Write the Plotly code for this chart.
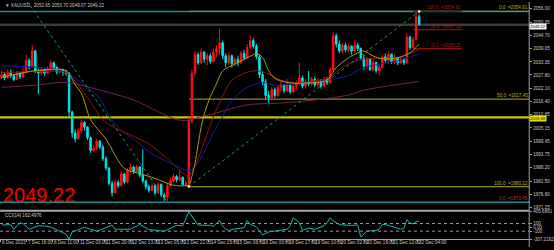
import numpy as np
import plotly.graph_objects as go

# ---------------- data ----------------
symbol = "XAUUSD"
first_open = 2027.0
close = [2028, 2026.5, 2029, 2027.5, 2025.8, 2028.5, 2027, 2029, 2034, 2031.5,
         2038, 2029.5, 2028.5, 2030, 2028.5, 2030.5, 2033, 2031, 2029, 2030,
         2029, 2028.5, 2012, 2003, 2000.5, 2004, 2007.5, 2005.5, 2001, 1995.5,
         1996.5, 1999.5, 1997, 1992, 1988, 1981.5, 1977.5, 1982, 1980.5, 1985.5,
         1982, 1987, 1988.5, 1986.5, 1988.5, 1985, 1982.5, 1980, 1978.5, 1980.5,
         1977.5, 1981, 1976.5, 1975.5, 1980.5, 1982.5, 1984.5, 1983, 1984, 1981,
         1981.5, 2008, 2028.5, 2036.5, 2033, 2037.5, 2034.5, 2036, 2033.5, 2037.5,
         2039, 2041.5, 2036, 2033, 2036, 2032.5, 2034.5, 2033, 2037, 2035,
         2039.5, 2042.5, 2040, 2035.5, 2028, 2025, 2019, 2018, 2021.5, 2019,
         2022.5, 2023.5, 2021, 2023.5, 2020.5, 2023, 2024.5, 2026.5, 2023, 2025,
         2024, 2026, 2023.5, 2025, 2023, 2026, 2024.5, 2030, 2044.5, 2041,
         2038, 2040.5, 2038.5, 2040, 2038, 2040.5, 2039, 2035, 2031.5, 2034.5,
         2030, 2033, 2029.5, 2031, 2035.5, 2034, 2036.5, 2033.5, 2035, 2033,
         2034.5, 2033, 2044, 2039.5, 2043, 2052.65, 2049.22]
high = [2029.5, 2029, 2030, 2030, 2028, 2029.5, 2029, 2031, 2036.5, 2035,
        2040.5, 2038.5, 2030.5, 2031, 2030.5, 2031.5, 2034, 2033.5, 2031.5, 2031,
        2030.5, 2030, 2029, 2012.5, 2004.5, 2005, 2008.5, 2008, 2006, 2001.5,
        1998, 2000.5, 2000, 1998, 1993, 1988.5, 1982.5, 1983, 1983, 1986.5,
        1986, 1988, 1990, 1989, 1989.5, 1989, 1996, 1983, 1981, 1981.5,
        1981, 1982, 1981.5, 1977.5, 1981.5, 1984, 1985.5, 1985, 1987.5, 1984.5,
        1982.5, 2010, 2030, 2038, 2037.5, 2039, 2038, 2037, 2037, 2039,
        2040.5, 2047.5, 2042.5, 2037, 2037.5, 2036.5, 2035.5, 2036, 2038, 2038.5,
        2041, 2044.5, 2043.5, 2041, 2036.5, 2029, 2026, 2021, 2022.5, 2022.5,
        2023.5, 2025, 2024, 2026, 2024, 2024.5, 2025.5, 2033, 2027.5, 2026,
        2029.5, 2027, 2027, 2026.5, 2026, 2027, 2027, 2031, 2046, 2045.5,
        2042.5, 2041.5, 2041.5, 2041, 2040.5, 2042.5, 2041.5, 2039.5, 2036.5, 2035.5,
        2035, 2034.5, 2033.5, 2032, 2036.5, 2037, 2037.5, 2037, 2036.5, 2035.5,
        2035.5, 2035, 2045.5, 2044.5, 2044, 2054.91, 2053.70]
low = [2026, 2025.5, 2026, 2026.5, 2025, 2025.5, 2026, 2026.5, 2028.5, 2030,
       2031, 2028.5, 2019.5, 2027.5, 2027.5, 2028, 2029.5, 2030, 2028, 2028.5,
       2027.5, 2027.5, 2010, 2001, 1999, 2000, 2003, 2004, 2000, 1994.5,
       1995, 1995.5, 1996, 1991, 1987, 1980.5, 1976, 1977, 1979.5, 1980,
       1981, 1981.5, 1986, 1985.5, 1986, 1984, 1981.5, 1979, 1977.5, 1978,
       1976.5, 1977, 1975.5, 1974, 1973.45, 1980, 1982, 1982, 1982.5, 1980.5,
       1980.12, 1981, 2007, 2027, 2032, 2032.5, 2033, 2032, 2032.5, 2033,
       2035.5, 2036.5, 2034.5, 2031, 2032, 2031, 2031.5, 2031.5, 2032.5, 2034,
       2034.5, 2039, 2039, 2034.5, 2026.5, 2023.5, 2017.5, 2015.8, 2017, 2018,
       2018.5, 2021, 2020, 2020.5, 2019.5, 2020, 2021.5, 2023.5, 2022, 2022,
       2023, 2023, 2022.5, 2022.5, 2022, 2022.5, 2023.5, 2024, 2029.5, 2039.5,
       2037, 2037, 2037.5, 2037.5, 2036.5, 2037.5, 2038, 2034, 2030, 2030.5,
       2029.5, 2029, 2028.5, 2027.5, 2030.5, 2033, 2032.5, 2032.5, 2032.5, 2032,
       2032.5, 2032, 2032.5, 2038.5, 2039, 2042.5, 2049.07]

date_labels = ["6 Dec 2023", "7 Dec 16:00", "8 Dec 11:00", "11 Dec 03:00",
               "11 Dec 20:00", "12 Dec 13:00", "13 Dec 05:00", "13 Dec 22:00",
               "14 Dec 15:00", "15 Dec 08:00", "18 Dec 00:00", "18 Dec 17:00",
               "19 Dec 10:00", "20 Dec 02:00", "20 Dec 19:00", "21 Dec 12:00",
               "22 Dec 04:00"]
bars_per_label = 8.49

price_ticks = [2056.00, 2050.35, 2044.70, 2039.05, 2033.35, 2027.80, 2022.10,
               2016.40, 2010.85, 2005.15, 1999.45, 1993.75, 1988.20, 1982.50,
               1976.80, 1971.25]
cci_ticks = [405.6861, 100, 0, -100, -307.2162]
cci_tick_text = ["405.6861", "100", "0.00", "-100", "-307.2162"]

olive_ma_i = [0, 11, 21, 24, 26, 29, 34, 40, 45, 50, 56, 61, 62, 63, 64, 65, 66, 68,
              70, 72, 76, 80, 83, 85, 87, 89, 93, 96, 102, 106, 109, 113, 116, 118,
              121, 124, 129, 133, 136]
olive_ma_v = [2026.7, 2029.6, 2029.6, 2023.5, 2020.0, 2008.7, 2000.4, 1987.8, 1985.7,
              1983.6, 1980.7, 1980.9, 1984.5, 1990.0, 1998.0, 2005.5, 2011.0, 2018.5,
              2024.0, 2029.5, 2032.4, 2035.1, 2036.8, 2035.3, 2029.6, 2026.3, 2024.6,
              2024.2, 2024.6, 2025.5, 2030.9, 2035.1, 2037.2, 2038.0, 2035.9, 2034.7,
              2035.1, 2037.2, 2040.9]
red_ma_i = [0, 11, 21, 23, 28, 33, 36, 43, 48, 54, 60, 61, 64, 67, 70, 73, 75, 79, 83,
            86, 91, 96, 106, 110, 113, 118, 129, 136]
red_ma_v = [2028.8, 2029.2, 2029.0, 2026.7, 2018.0, 2008.7, 2005.8, 2001.6, 1998.3,
            1992.0, 1984.9, 1984.5, 1992.0, 2003.0, 2013.0, 2021.5, 2025.5, 2028.5,
            2029.6, 2028.8, 2025.5, 2024.6, 2026.3, 2030.0, 2032.6, 2034.7, 2035.1,
            2038.8]
blue_ma_i = [0, 16, 21, 27, 32, 35, 39, 43, 48, 54, 61, 63, 66, 69, 72, 74, 77, 80, 85,
             89, 96, 106, 113, 118, 129, 136]
blue_ma_v = [2031.7, 2030.5, 2028.8, 2023.4, 2017.9, 2010.4, 2004.0, 2000.4, 1994.9,
             1990.7, 1987.0, 1988.5, 1995.0, 2003.0, 2010.0, 2015.0, 2019.5, 2022.5,
             2024.6, 2023.4, 2024.2, 2025.5, 2027.5, 2030.9, 2033.8, 2036.8]
purple_ma_i = [0, 11, 21, 32, 43, 51, 57, 61, 64, 70, 80, 91, 102, 113, 118, 136]
purple_ma_v = [2022.5, 2023.4, 2024.6, 2021.3, 2017.1, 2012.1, 2008.7, 2008.3, 2009.6,
               2011.6, 2015.0, 2015.8, 2017.1, 2019.2, 2021.3, 2025.0]

cci_i = [0, 3, 4, 6, 7, 9, 12, 14, 16, 19, 21, 22, 23, 25, 27, 29, 31, 33, 36, 37, 42,
         45, 48, 53, 55, 57, 59, 61, 63, 64, 68, 69, 71, 72, 73, 74, 76, 79, 80, 81, 83,
         85, 87, 90, 93, 94, 95, 97, 98, 100, 102, 105, 106, 107, 108, 110, 114, 116,
         117, 119, 122, 123, 124, 125, 127, 129, 130, 131, 132, 133, 134, 135, 136]
cci_v = [60, 70, -50, 120, 100, -50, 40, 35, 10, -100, -180, -307.2162, -120, -60, 0,
         -50, -100, -40, 60, -50, -50, 75, -60, -100, -20, 50, 40, 405.6861, 176, 60,
         50, 30, 176, 40, -50, -80, -40, -10, 176, 80, 10, -200, -120, -90, -50, 40,
         250, 120, -80, -20, -50, 40, 120, 250, 170, 70, 50, 60, -250, -100, -80, -50,
         75, 75, 30, -10, -50, -30, 200, 120, 90, 150, 162.4976]

support_level = 2009.68
teal_levels = [2054.91, 1973.45]
olive_fib_pcts = ["0.0", "50.0", "100.0"]
olive_fib_prices = [2054.91, 2017.45, 1980.12]
olive_fib_start = 61
red_fib_pcts = ["100.0", "50.0", "0.0"]
red_fib_prices = [2054.91, 2047.13, 2039.05]
red_fib_span = [134, 150]
trend1_x = [6, 54]
trend1_y = [2063.6, 1973.45]
trend2_x = [61, 136]
trend2_y = [1980.12, 2054.91]

# ---------------- figure ----------------
open_ = [first_open] + close[:-1]
x = np.arange(len(close))

XDOM = 536 / 554
XMIN, XMAX = -0.5, -0.5 + 536 / 3.11
FONT = "Liberation Sans, Arial, sans-serif"
SMALL = 4.6

fig = go.Figure()
fig.add_trace(go.Candlestick(
    x=x, open=open_, high=high, low=low, close=close,
    increasing=dict(line=dict(color="#ff1010", width=1), fillcolor="#ff1010"),
    decreasing=dict(line=dict(color="#00e8e8", width=1), fillcolor="#00e8e8"),
    whiskerwidth=0, xaxis="x", yaxis="y", hoverinfo="skip"))

for xi, yi, col in [(purple_ma_i, purple_ma_v, "#7d1e5e"),
                    (blue_ma_i, blue_ma_v, "#1a1aa8"),
                    (red_ma_i, red_ma_v, "#9a1212"),
                    (olive_ma_i, olive_ma_v, "#a8a018")]:
    fig.add_trace(go.Scatter(x=xi, y=yi, mode="lines",
                             line=dict(color=col, width=1, shape="spline", smoothing=0.8),
                             xaxis="x", yaxis="y", hoverinfo="skip"))

for tx, ty in [(trend1_x, trend1_y), (trend2_x, trend2_y)]:
    fig.add_trace(go.Scatter(x=tx, y=ty, mode="lines",
                             line=dict(color="#1f9a66", width=1, dash="dot"),
                             xaxis="x", yaxis="y", hoverinfo="skip"))
fig.add_trace(go.Scatter(x=trend2_x, y=trend2_y, mode="markers",
                         marker=dict(color="white", size=2.5),
                         xaxis="x", yaxis="y", hoverinfo="skip"))

fig.add_trace(go.Scatter(x=cci_i, y=cci_v, mode="lines",
                         line=dict(color="#20b2aa", width=1),
                         xaxis="x", yaxis="y2", hoverinfo="skip"))

shapes = []
for lv in teal_levels:
    shapes.append(dict(type="line", xref="x domain", x0=0, x1=1, yref="y", y0=lv, y1=lv,
                       line=dict(color="#138f8f", width=1.5), layer="below"))
shapes.append(dict(type="line", xref="x domain", x0=0, x1=1, yref="y",
                   y0=close[-1], y1=close[-1], line=dict(color="#3c3c3c", width=2.5),
                   layer="below"))
shapes.append(dict(type="line", xref="x domain", x0=0, x1=1, yref="y",
                   y0=support_level, y1=support_level,
                   line=dict(color="#c4c400", width=2.2), layer="below"))
for p in olive_fib_prices:
    shapes.append(dict(type="line", xref="x", x0=olive_fib_start, x1=XMAX, yref="y",
                       y0=p, y1=p, line=dict(color="#8c8c0c", width=1.3), layer="below"))
for p in red_fib_prices:
    shapes.append(dict(type="line", xref="x", x0=red_fib_span[0], x1=red_fib_span[1],
                       yref="y", y0=p, y1=p, line=dict(color="#8e0e0e", width=1.3),
                       layer="below"))
for lv in [100, -100]:
    shapes.append(dict(type="line", xref="x domain", x0=0, x1=1, yref="y2", y0=lv, y1=lv,
                       line=dict(color="#9a9a9a", width=1, dash="dot"), layer="below"))
# panel separator and right frame
shapes.append(dict(type="line", xref="paper", x0=0, x1=XDOM, yref="paper",
                   y0=1 - 213 / 250, y1=1 - 213 / 250,
                   line=dict(color="#a8a8a8", width=2)))
shapes.append(dict(type="line", xref="paper", x0=XDOM, x1=XDOM, yref="paper",
                   y0=0, y1=1, line=dict(color="#a0a0a0", width=1)))

ann = []
date_pos = [XMIN + bars_per_label * k for k in range(len(date_labels))]
for pos, lab in zip(date_pos, date_labels):
    ann.append(dict(x=pos, xref="x", y=0.0, yref="paper", yanchor="bottom",
                    xanchor="left", text=lab, showarrow=False,
                    font=dict(size=SMALL, color="#c8c8c8", family=FONT)))
for pct, p in zip(olive_fib_pcts, olive_fib_prices):
    ann.append(dict(x=1, xref="x domain", y=p, yref="y", xanchor="right",
                    yanchor="bottom", text=f"{pct}  ={p:.2f}", showarrow=False,
                    font=dict(size=SMALL, color="#b4b41c", family=FONT),
                    borderpad=0))
for pct, p in zip(red_fib_pcts, red_fib_prices):
    ann.append(dict(x=red_fib_span[1], xref="x", y=p, yref="y", xanchor="right",
                    yanchor="bottom", text=f"{pct}  ={p:.2f}", showarrow=False,
                    font=dict(size=SMALL, color="#b01414", family=FONT),
                    borderpad=0))
ann.append(dict(x=1, xref="x domain", y=teal_levels[1], yref="y", xanchor="right",
                yanchor="bottom", text=f"0.0  ={teal_levels[1]:.2f}", showarrow=False,
                font=dict(size=SMALL, color="#c03030", family=FONT), borderpad=0))
ann.append(dict(x=XDOM, xref="paper", y=close[-1], yref="y", xanchor="left",
                yanchor="middle", text=f"{close[-1]:.2f}", showarrow=False,
                bgcolor="#f4f4f4", font=dict(size=4.2, color="black", family=FONT),
                borderpad=0, yshift=-1.5))
ann.append(dict(x=XDOM, xref="paper", y=support_level, yref="y", xanchor="left",
                yanchor="middle", text=f"{support_level:.2f}", showarrow=False,
                bgcolor="#e6e600", font=dict(size=4.2, color="black", family=FONT),
                borderpad=0, yshift=-1.5))
ann.append(dict(x=3 / 554, xref="paper", y=1 - 3.5 / 250, yref="paper", xanchor="left",
                yanchor="middle",
                text=f"▼ {symbol}   {open_[-1]:.2f} {high[-1]:.2f} {low[-1]:.2f} {close[-1]:.2f}",
                showarrow=False, font=dict(size=SMALL, color="#c8c8c8", family=FONT)))
ann.append(dict(x=3 / 554, xref="paper", y=1 - 218 / 250, yref="paper", xanchor="left",
                yanchor="middle", text=f"CCI(14) {cci_v[-1]:.4f}", showarrow=False,
                font=dict(size=SMALL, color="#c8c8c8", family=FONT)))
ann.append(dict(x=1 / 554, xref="paper", y=1 - 197 / 250, yref="paper", xanchor="left",
                yanchor="middle", text=f"{close[-1]:.2f}", showarrow=False,
                font=dict(size=20, color="#ff0000", family=FONT)))

axis_font = dict(size=SMALL, color="#c8c8c8", family=FONT)
main_ticktext = [f"{v:.2f}" for v in price_ticks]
fig.update_layout(
    width=554, height=250, margin=dict(l=0, r=0, t=0, b=0),
    paper_bgcolor="black", plot_bgcolor="black", showlegend=False,
    shapes=shapes, annotations=ann,
    xaxis=dict(domain=[0, XDOM], range=[XMIN, XMAX], anchor="y2",
               rangeslider=dict(visible=False), showgrid=False, zeroline=False,
               tickvals=date_pos, showticklabels=False, ticks="outside", ticklen=2,
               tickcolor="#a0a0a0", showline=True, linecolor="#a0a0a0", linewidth=1),
    yaxis=dict(domain=[1 - 213 / 250, 1], range=[1969.8, 2058.93], side="right",
               anchor="x", tickvals=price_ticks, ticktext=main_ticktext,
               tickfont=axis_font, ticks="outside", ticklen=2, tickcolor="#a0a0a0",
               showgrid=False, zeroline=False),
    yaxis2=dict(domain=[8 / 250, 1 - 214 / 250], range=[-307.2162, 405.6861],
                side="right", anchor="x", tickvals=cci_ticks, ticktext=cci_tick_text,
                tickfont=axis_font, ticks="outside", ticklen=2, tickcolor="#a0a0a0",
                showgrid=False, zeroline=False),
)

fig.write_html("out.html", config={"displayModeBar": False})
